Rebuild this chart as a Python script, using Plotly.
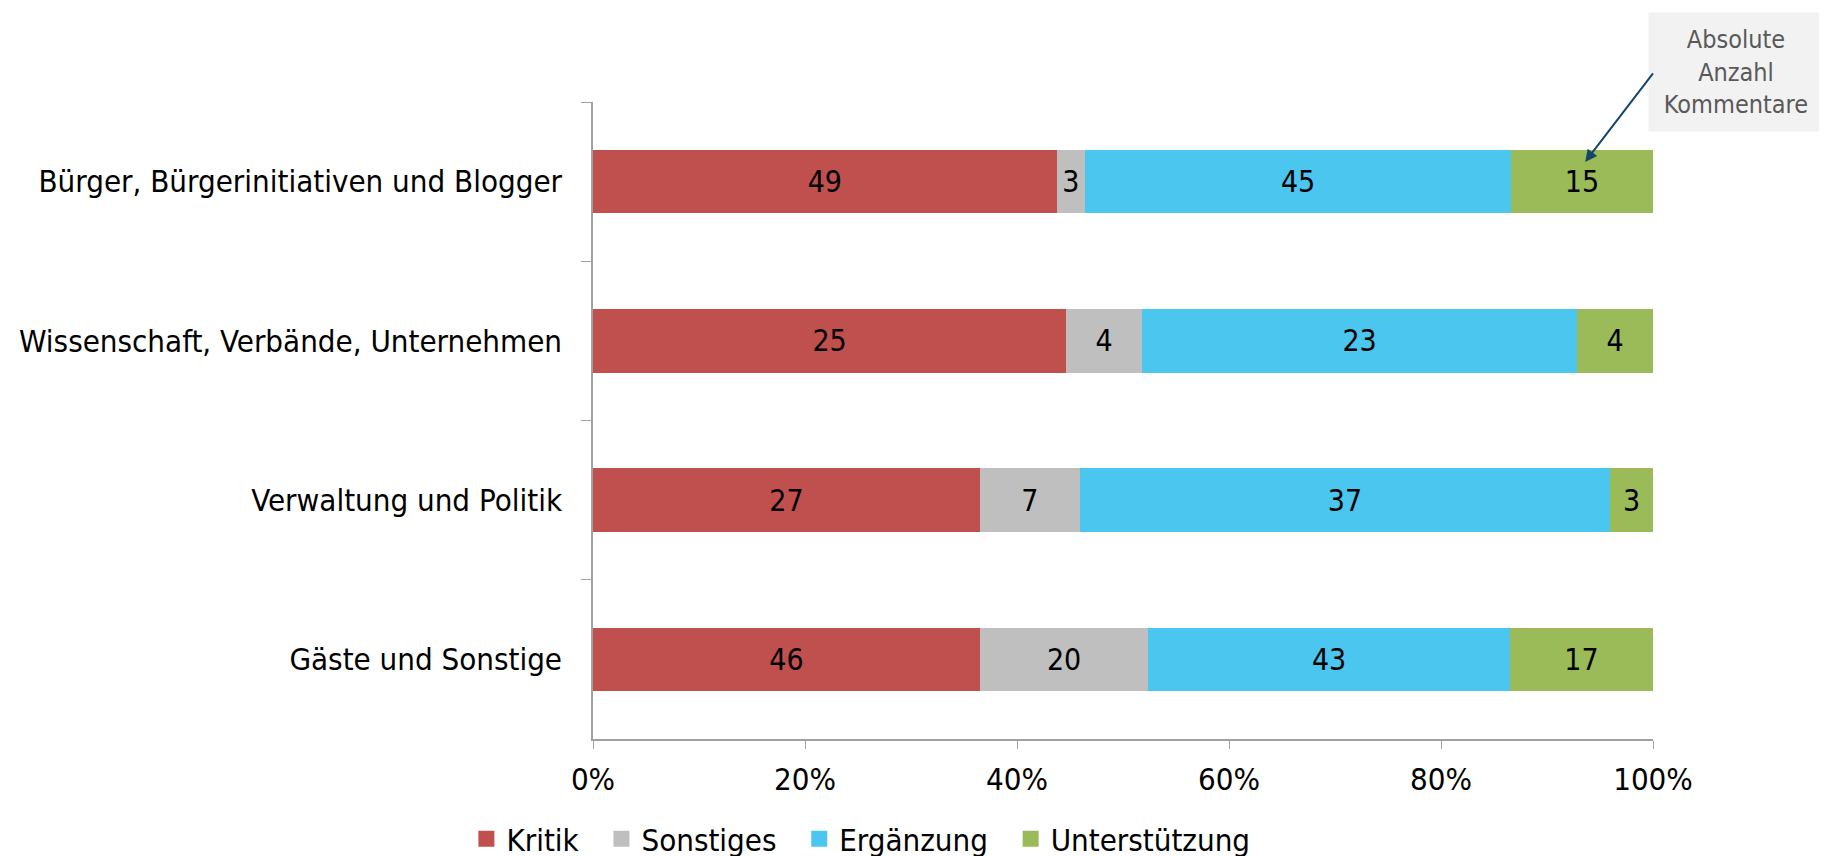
import plotly.graph_objects as go

# Absolute number of comments per group and type
groups = [
    "Bürger, Bürgerinitiativen und Blogger",
    "Wissenschaft, Verbände, Unternehmen",
    "Verwaltung und Politik",
    "Gäste und Sonstige",
]
kritik = [49, 25, 27, 46]
sonstiges = [3, 4, 7, 20]
ergaenzung = [45, 23, 37, 43]
unterstuetzung = [15, 4, 3, 17]

series_names = ["Kritik", "Sonstiges", "Ergänzung", "Unterstützung"]
series_values = [kritik, sonstiges, ergaenzung, unterstuetzung]
colors = ["#c0504d", "#bfbfbf", "#4bc6ef", "#9bbb59"]

x_ticks = [0, 20, 40, 60, 80, 100]
x_tick_labels = ["0%", "20%", "40%", "60%", "80%", "100%"]

FONT = "DejaVu Sans Condensed"
AXIS_GRAY = "#a0a0a0"
PAD = "\u00a0\u00a0"  # extra room between legend entries

fig = go.Figure()

for name, values, color in zip(series_names, series_values, colors):
    fig.add_trace(go.Bar(
        y=groups,
        x=values,
        name=name,
        orientation="h",
        marker=dict(color=color, line=dict(width=0)),
        text=values,
        textposition="inside",
        insidetextanchor="middle",
        textangle=0,
        textfont=dict(color="black", size=30, family=FONT),
        width=0.4,
        showlegend=False,
    ))

# legend entries with bigger square swatches
for name, color in zip(series_names, colors):
    fig.add_trace(go.Scatter(
        x=[None], y=[None],
        mode="markers",
        name=name + PAD,
        marker=dict(symbol="square", size=18, color=color),
        showlegend=True,
    ))

fig.update_layout(
    barmode="stack",
    barnorm="percent",
    width=1819,
    height=848,
    margin=dict(l=585, r=174, t=94, b=117),
    plot_bgcolor="white",
    paper_bgcolor="white",
    font=dict(family=FONT, size=31, color="black"),
    uniformtext=dict(mode="show", minsize=30),
    legend=dict(
        orientation="h",
        xref="container", yref="container",
        x=0.252, xanchor="left",
        y=0.02, yanchor="middle",
        font=dict(size=31, family=FONT),
        traceorder="normal",
        itemwidth=30,
        itemsizing="trace",
    ),
    xaxis=dict(
        range=[0, 100],
        tickvals=x_ticks,
        ticktext=x_tick_labels,
        showgrid=False,
        zeroline=False,
        showline=True,
        linecolor=AXIS_GRAY,
        linewidth=1.5,
        ticks="outside",
        ticklen=8,
        tickcolor=AXIS_GRAY,
        ticklabelstandoff=4,
        tickfont=dict(size=31),
    ),
    yaxis=dict(
        categoryorder="array",
        categoryarray=groups,
        autorange="reversed",
        showgrid=False,
        zeroline=False,
        showline=True,
        linecolor=AXIS_GRAY,
        linewidth=1.5,
        ticks="outside",
        ticklen=10,
        tickcolor=AXIS_GRAY,
        tickson="boundaries",
        ticklabelstandoff=23,
        tickfont=dict(size=31),
    ),
)

# Callout box
fig.add_annotation(
    xref="paper", yref="paper",
    x=1.078, y=1.047,
    xanchor="center", yanchor="middle",
    text="Absolute<br>Anzahl<br>Kommentare",
    showarrow=False,
    font=dict(size=25, color="#595959", family=FONT),
    bgcolor="#f2f2f2",
    width=172,
    height=116,
    align="center",
)

# Arrow from the callout to the first bar's label
fig.add_annotation(
    xref="paper", yref="paper",
    x=0.936, y=0.906,
    text="",
    showarrow=True,
    ax=69, ay=-90,
    arrowhead=2,
    arrowsize=1.2,
    arrowwidth=2,
    arrowcolor="#17456a",
)

fig.write_html("out.html")
